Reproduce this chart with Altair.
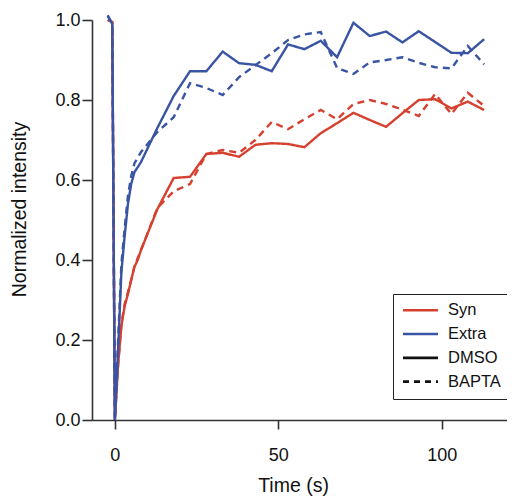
import altair as alt
import pandas as pd

time = [-2.2, -0.8, 0, 1, 2, 3, 4, 5, 6, 7, 8, 13, 18, 23, 28, 33, 38, 43, 48,
        53, 58, 63, 68, 73, 78, 83, 88, 93, 98, 103, 108, 113]

syn_dmso = [1.0, 0.995, 0.0, 0.14, 0.235, 0.285, 0.315, 0.35, 0.383, 0.40, 0.425,
            0.527, 0.605, 0.608, 0.665, 0.668, 0.658, 0.688, 0.692, 0.69, 0.682,
            0.717, 0.742, 0.768, 0.75, 0.733, 0.767, 0.80, 0.802, 0.779, 0.796, 0.775]
syn_bapta = [1.0, 0.995, 0.0, 0.14, 0.24, 0.29, 0.32, 0.35, 0.385, 0.405, 0.425,
             0.53, 0.572, 0.59, 0.665, 0.675, 0.668, 0.70, 0.745, 0.727, 0.752,
             0.775, 0.752, 0.79, 0.80, 0.79, 0.776, 0.76, 0.815, 0.765, 0.818, 0.785]
extra_dmso = [1.012, 0.99, 0.0, 0.18, 0.37, 0.46, 0.54, 0.59, 0.62, 0.632, 0.645,
              0.73, 0.81, 0.872, 0.872, 0.921, 0.892, 0.888, 0.872, 0.939, 0.927,
              0.948, 0.907, 0.993, 0.96, 0.971, 0.944, 0.972, 0.945, 0.918, 0.917, 0.952]
extra_bapta = [1.01, 0.99, 0.0, 0.2, 0.39, 0.48, 0.56, 0.61, 0.642, 0.655, 0.67,
               0.72, 0.757, 0.842, 0.83, 0.8125, 0.857, 0.887, 0.917, 0.95, 0.964,
               0.97, 0.88, 0.865, 0.894, 0.9, 0.907, 0.893, 0.882, 0.879, 0.935, 0.889]

cells = ["Syn", "Extra"]
treatments = ["DMSO", "BAPTA"]
legend_entries = ["Syn", "Extra", "DMSO", "BAPTA"]
RED = "#d5402f"
BLUE = "#3a54a4"

series = [
    ("Syn", "DMSO", syn_dmso),
    ("Syn", "BAPTA", syn_bapta),
    ("Extra", "DMSO", extra_dmso),
    ("Extra", "BAPTA", extra_bapta),
]
rows = []
for i, (c, tr, vals) in enumerate(series):
    for t, v in zip(time, vals):
        rows.append({"time": t, "value": v, "cell": c, "treat": tr,
                     "series": f"{i}_{c}_{tr}"})
df = pd.DataFrame(rows)

FONT = "Liberation Sans"

lines = alt.Chart(df).mark_line(strokeWidth=2.4).encode(
    x=alt.X("time:Q", scale=alt.Scale(domain=[-7, 120], nice=False, zero=False),
            axis=alt.Axis(title="Time (s)", values=[0, 50, 100], grid=False,
                          tickSize=9, labelPadding=17, titleX=201, titleY=65,
                          titleBaseline="middle", titleAlign="center")),
    y=alt.Y("value:Q", scale=alt.Scale(domain=[0, 1], nice=False),
            axis=alt.Axis(title="Normalized intensity",
                          values=[0, 0.2, 0.4, 0.6, 0.8, 1.0], format=".1f",
                          grid=False, tickSize=10, labelPadding=2,
                          titleX=-73, titleY=189, titleAngle=270,
                          titleBaseline="middle", titleAlign="center")),
    color=alt.Color("cell:N", scale=alt.Scale(domain=cells, range=[RED, BLUE]),
                    legend=None),
    strokeDash=alt.StrokeDash("treat:N",
                              scale=alt.Scale(domain=treatments, range=[[1, 0], [7, 5]]),
                              legend=None),
    detail="series:N",
    order=alt.Order("time:Q"),
)

legend_props = dict(title=None, orient="none", legendX=301, legendY=274,
                    strokeColor="#222222", padding=8, labelFont=FONT,
                    labelFontSize=16.5, labelColor="#111111",
                    symbolType="M-1.04,0H4.79", symbolSize=144, symbolStrokeWidth=2.6,
                    rowPadding=6.8, labelOffset=30.5)

leg_df = pd.DataFrame({"entry": legend_entries})
legend_layer = alt.Chart(leg_df).mark_line(strokeWidth=2.4).encode(
    x=alt.value(0),
    y=alt.value(0),
    color=alt.Color("entry:N",
                    scale=alt.Scale(domain=legend_entries,
                                    range=[RED, BLUE, "#111111", "#111111"]),
                    legend=alt.Legend(**legend_props)),
    strokeDash=alt.StrokeDash("entry:N",
                              scale=alt.Scale(domain=legend_entries,
                                              range=[[1, 0], [1, 0], [1, 0], [6, 5]]),
                              legend=alt.Legend(**legend_props)),
)

chart = alt.layer(lines, legend_layer).resolve_scale(
    color="independent", strokeDash="independent"
).properties(
    width=415, height=400,
    autosize=alt.AutoSizeParams(type="none"),
    padding={"left": 84, "top": 12, "right": 0, "bottom": 76},
).configure_view(stroke=None).configure_axis(
    labelFont=FONT, titleFont=FONT, labelFontSize=18, titleFontSize=19.5,
    labelColor="#111111", titleColor="#111111", titleFontWeight="normal",
    domainColor="#333333", tickColor="#333333", domainWidth=1.6, tickWidth=1.6,
)

chart.save("out.html", embed_options={"renderer": "svg", "actions": False})
